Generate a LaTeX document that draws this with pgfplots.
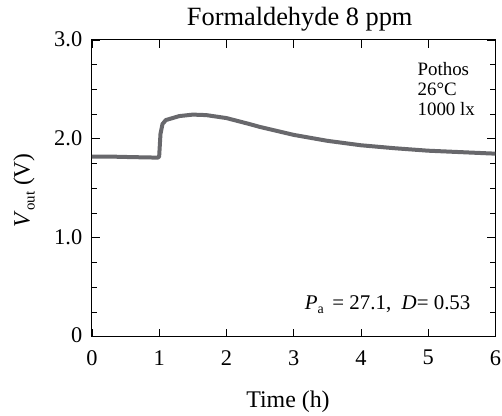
\documentclass[border=0pt]{standalone}
\usepackage{pgfplots}
\pgfplotsset{compat=1.18}
\usepackage{fontspec}
\setmainfont{Liberation Serif}
\definecolor{curve}{RGB}{104,104,108}
\begin{document}
\begin{tikzpicture}
\begin{axis}[
  at={(0,0)}, anchor=south west,
  scale only axis,
  width=404bp, height=297bp,
  xmin=0, xmax=6, ymin=0, ymax=3,
  xtick={0,1,2,3,4,5,6},
  ytick={0,1,2,3},
  yticklabels={0,1.0,2.0,3.0},
  minor ytick={0.25,0.5,...,2.75},
  /pgf/number format/assume math mode=true,
  tick style={black, line width=0.7pt},
  major tick length=8bp,
  minor tick length=5bp,
  axis line style={line width=1pt},
  tick label style={font=\fontsize{22.5}{24}\selectfont, inner sep=1bp},
  xticklabel style={yshift=-12.5bp},
  yticklabel style={xshift=-8.5bp, yshift=1bp},
  title={Formaldehyde 8 ppm},
  title style={font=\fontsize{26.5}{28}\selectfont, at={(axis description cs:0.515,1.03)}, anchor=base},
  xlabel={Time (h)},
  xlabel style={font=\fontsize{24}{26}\selectfont, at={(axis description cs:0.486,-0.239)}, anchor=base},
  ylabel={\textit{V}\raisebox{-0.45ex}{\fontsize{15}{16}\selectfont out} (V)},
  ylabel style={font=\fontsize{23.5}{26}\selectfont, at={(axis description cs:-0.168,0.493)}, anchor=center},
]
\addplot[curve, line width=4bp, line join=round] coordinates {
(0,1.82) (0.3,1.82) (0.6,1.815) (0.98,1.81) (1.0,1.82) (1.02,2.05) (1.05,2.15)
(1.1,2.19) (1.2,2.21) (1.3,2.23) (1.5,2.245) (1.7,2.24) (2.0,2.21)
(2.34,2.15) (2.5,2.12) (3.0,2.04) (3.5,1.98) (4.0,1.935) (4.5,1.905)
(5.0,1.88) (5.5,1.865) (6,1.85)
};
\node[anchor=base west, font=\fontsize{19}{20}\selectfont, inner sep=0pt] at (axis cs:4.84,2.636) {Pothos};
\node[anchor=base west, font=\fontsize{19}{20}\selectfont, inner sep=0pt] at (axis cs:4.84,2.434) {26°C};
\node[anchor=base west, font=\fontsize{19}{20}\selectfont, inner sep=0pt] at (axis cs:4.84,2.232) {1000 lx};
\node[anchor=base west, font=\fontsize{21}{22}\selectfont, inner sep=0pt] at (axis cs:3.163,0.273)
  {\textit{P}\raisebox{-0.45ex}{\fontsize{14}{15}\selectfont a}\,\ = 27.1,\ \ \textit{D}= 0.53};
\end{axis}
\path (-92bp,-78bp) rectangle (410bp,337bp);
\end{tikzpicture}
\end{document}
